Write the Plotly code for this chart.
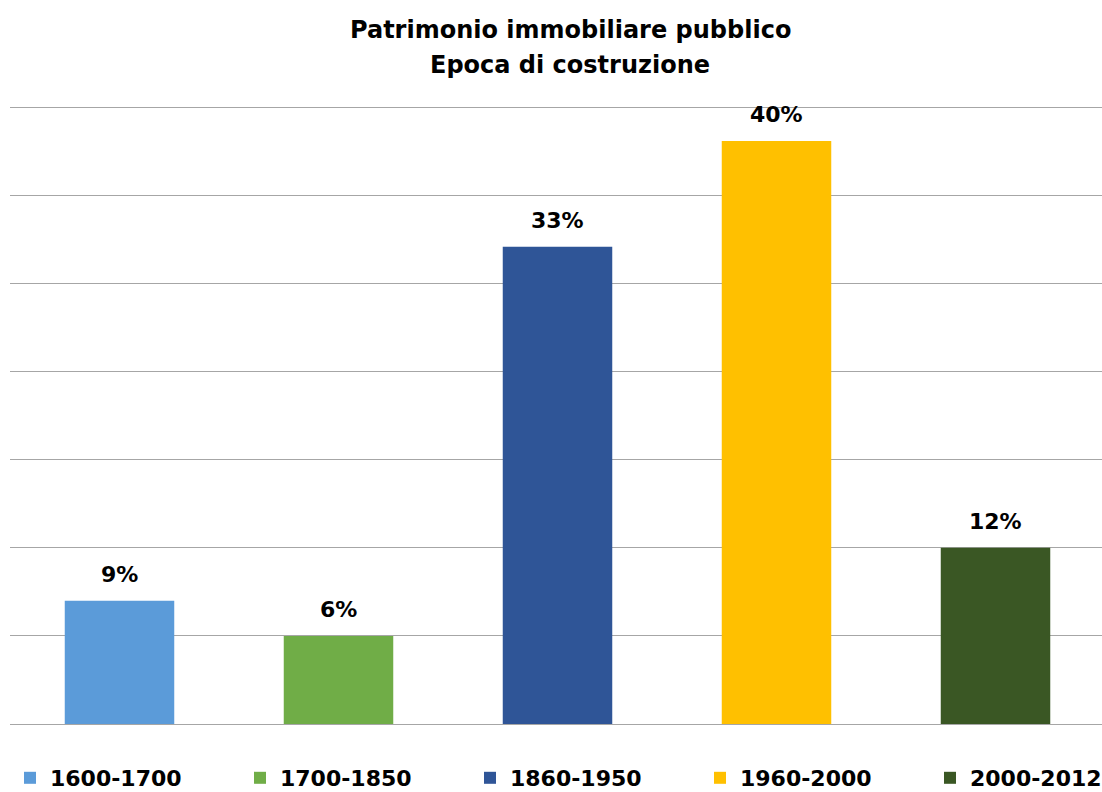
import plotly.graph_objects as go

categories = ["1600-1700", "1700-1850", "1860-1950", "1960-2000", "2000-2012"]
values = [0.084, 0.060, 0.325, 0.397, 0.120]
labels = ["9%", "6%", "33%", "40%", "12%"]
colors = ["#5b9bd9", "#70ad47", "#2f5597", "#ffc000", "#3a5724"]
title_lines = ["Patrimonio immobiliare pubblico", "Epoca di costruzione"]

FONT = "Century Gothic, URW Gothic, DejaVu Sans, sans-serif"

W, H = 1105, 800
L, R, T, B = 10, 0, 105, 76
pw, ph = W - L - R, H - T - B

legend_names = ["legend", "legend2", "legend3", "legend4", "legend5"]

fig = go.Figure()
for i, (cat, val, col) in enumerate(zip(categories, values, colors)):
    fig.add_trace(go.Bar(
        x=[cat], y=[val], name="<b>" + cat + "</b>",
        marker=dict(color=col, line=dict(width=0)),
        width=0.5,
        hoverinfo="skip",
        legend=legend_names[i],
    ))

for cat, val, lab in zip(categories, values, labels):
    fig.add_annotation(
        x=cat, y=val, xref="x", yref="y",
        text="<b>" + lab + "</b>", showarrow=False,
        yanchor="bottom", yshift=12,
        font=dict(family=FONT, size=22, color="#000000"),
    )

for i, line in enumerate(title_lines):
    px_x, px_y = 570, 30 + 35 * i
    fig.add_annotation(
        x=(px_x - L) / pw, y=(H - B - px_y) / ph, xref="paper", yref="paper",
        text="<b>" + line + "</b>", showarrow=False,
        xanchor="center", yanchor="middle",
        font=dict(family=FONT, size=24, color="#000000"),
    )

legend_style = dict(
    orientation="h", xanchor="left", y=-(B - 1) / ph, yanchor="bottom",
    itemwidth=30,
    font=dict(family=FONT, size=22, color="#000000"),
    bgcolor="rgba(0,0,0,0)",
)
legend_layout = {}
for i, name in enumerate(legend_names):
    legend_layout[name] = dict(legend_style, x=(10 + 230 * i - L) / pw)

fig.update_layout(
    width=W, height=H,
    paper_bgcolor="white", plot_bgcolor="white",
    barmode="overlay",
    margin=dict(l=L, r=R, t=T, b=B, autoexpand=False),
    xaxis=dict(showticklabels=False, showgrid=False, zeroline=False,
               showline=False, ticks=""),
    yaxis=dict(range=[0, 0.4215], dtick=0.06, showticklabels=False,
               showgrid=True, gridcolor="#a6a6a6", gridwidth=1,
               zeroline=True, zerolinecolor="#a6a6a6", zerolinewidth=1,
               showline=False, ticks=""),
    showlegend=True,
    **legend_layout,
)

fig.write_html(
    "out.html",
    config={"displayModeBar": False},
    post_script="document.body.style.margin='0';document.body.style.overflow='hidden';",
)
